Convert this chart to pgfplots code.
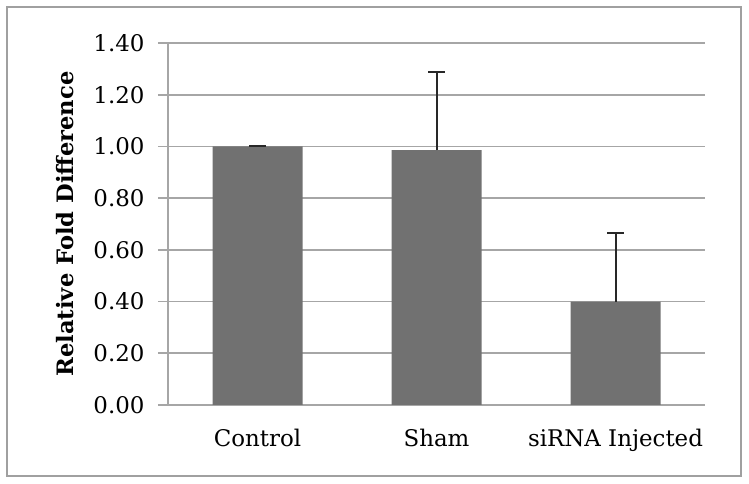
\documentclass[border=0pt]{standalone}
\usepackage{fontspec}
\setmainfont{DejaVu Serif}
\usepackage{pgfplots}
\pgfplotsset{compat=1.18}
\definecolor{barcol}{RGB}{113,113,113}
\definecolor{gridcol}{RGB}{166,166,166}
\definecolor{framecol}{RGB}{160,160,160}
\definecolor{errcol}{RGB}{40,40,40}
\begin{document}
\begin{tikzpicture}[x=1bp,y=1bp]
\useasboundingbox (-168,-79) rectangle (581,405);
\draw[framecol, line width=2.7bp] (-161,-71) rectangle (573,398);
\begin{axis}[
  at={(0,0)}, anchor=south west,
  scale only axis, width=537bp, height=362bp,
  xmin=-0.5, xmax=2.5, ymin=0, ymax=1.4,
  xtick=data, xticklabels={Control,Sham,siRNA Injected},
  ytick={0,0.2,...,1.4},
  yticklabel style={/pgf/number format/fixed,/pgf/number format/fixed zerofill,/pgf/number format/precision=2, xshift=-10bp, font=\fontsize{23}{26}\selectfont},
  /pgf/number format/assume math mode=true,
  ymajorgrids, grid style={gridcol, line width=1.8bp},
  axis x line*=bottom, axis y line*=left,
  axis line style={gridcol, line width=1.8bp},
  x axis line style={-}, y axis line style={-},
  major x tick style={draw=none},
  major y tick style={gridcol, line width=1.8bp},
  tick align=outside, major tick length=10bp,
  xticklabel style={yshift=-11bp, font=\fontsize{23}{26}\selectfont},
  ticklabel style={text=black},
  ylabel={\textbf{Relative Fold Difference}},
  ylabel style={font=\fontsize{22.7}{26}\selectfont, yshift=13bp},
  clip=false,
]
\addplot[ybar, bar width=90bp, fill=barcol, draw=none,
  error bars/.cd, y dir=plus, y explicit,
  error bar style={errcol, line width=2bp},
  error mark options={errcol, rotate=90, mark size=8.5bp, line width=2bp}]
  coordinates {
  (0,1.00) +- (0,0.002)
  (1,0.986) +- (0,0.301)
  (2,0.400) +- (0,0.264)
  };
\end{axis}
\end{tikzpicture}
\end{document}
